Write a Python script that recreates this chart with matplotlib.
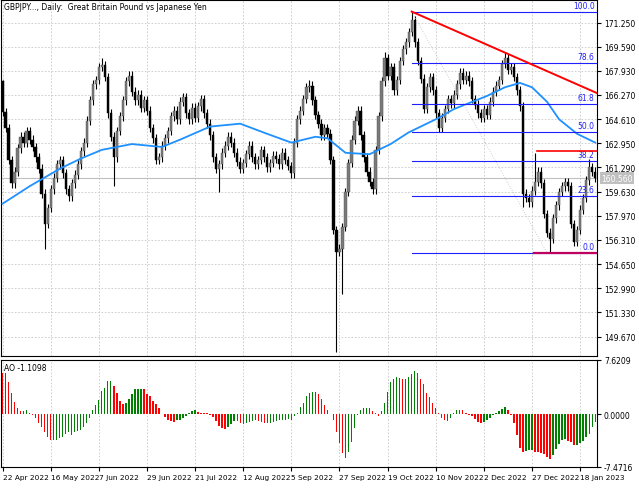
import matplotlib
matplotlib.use("Agg")
import matplotlib.pyplot as plt
import numpy as np

closes = [165.1, 164.0, 161.8, 160.2, 161.0, 162.6, 163.4, 163.0, 163.8, 163.2,
          162.7, 162.0, 161.2, 159.5, 157.4, 158.5, 159.8, 160.6, 161.5, 161.8,
          160.9, 159.8, 159.3, 160.2, 160.8, 161.5, 162.4, 163.0, 164.5, 165.9,
          167.0, 167.3, 168.2, 168.3, 167.5, 165.0, 163.4, 162.0, 163.8, 164.8,
          165.9, 167.2, 167.6, 166.5, 165.9, 166.3, 165.4, 165.9, 165.2, 164.0,
          163.3, 161.8, 162.0, 162.8, 163.3, 163.8, 164.8, 165.2, 164.6, 165.8,
          166.1, 165.0, 164.6, 165.4, 164.7, 165.5, 166.0, 165.0, 164.3, 163.5,
          162.0, 161.2, 161.5, 162.3, 162.8, 163.4, 163.0, 162.3, 161.7, 161.2,
          161.6, 162.2, 162.8, 162.0, 161.5, 161.8, 162.5, 162.0, 161.3, 161.6,
          162.1, 161.9, 161.5, 162.3, 161.8, 161.4, 160.9, 163.0, 164.6, 165.2,
          166.0, 166.8, 166.9, 165.9, 164.9, 164.3, 163.5, 164.0, 163.6, 161.8,
          157.0, 155.5, 155.7, 157.2, 159.6, 161.6, 163.2, 164.5, 165.2, 163.5,
          162.0, 161.0, 160.3, 159.8, 162.5, 164.8, 167.2, 168.8, 167.6, 168.2,
          166.6, 167.3, 168.6, 169.4, 169.9, 170.6, 171.4, 169.9, 168.6, 167.4,
          165.3, 166.8, 167.5, 166.6, 165.0, 164.0, 164.7, 165.3, 166.0, 165.7,
          166.3, 167.0, 167.8, 167.3, 167.6, 167.2, 166.0, 165.6, 165.0, 164.7,
          165.3, 164.9, 165.8, 166.5, 166.9, 167.3, 168.4, 168.8, 168.0, 168.2,
          167.5, 166.6, 165.5, 159.5, 159.2, 158.9, 159.7, 160.3, 161.0, 160.2,
          158.1, 156.8, 156.4, 157.8, 158.7, 159.6, 160.0, 160.3, 160.0, 157.4,
          156.2, 157.0, 158.4, 159.2, 160.4, 161.3, 161.0, 160.56]
first_open = 167.2
extreme_highs = {0: 167.3, 33: 168.8, 42: 167.9, 102: 167.3, 127: 169.2, 136: 172.0, 167: 169.2, 177: 162.3, 195: 161.9}
extreme_lows = {14: 155.7, 37: 160.0, 72: 159.6, 111: 148.6, 113: 152.6, 173: 158.6, 182: 155.4, 190: 155.9}

ma_idx = [0, 9, 19, 26, 33, 43, 53, 59, 69, 79, 88, 96, 104, 108, 114, 122, 129, 135, 145, 150, 161, 167, 172, 176, 181, 185, 191, 197]
ma_val = [158.8, 160.0, 161.2, 161.9, 162.5, 162.9, 162.7, 163.2, 164.1, 164.3, 163.6, 163.0, 163.4, 163.3, 162.3, 162.2, 162.9, 163.7, 164.7, 165.3, 166.2, 166.8, 167.1, 166.8, 165.8, 164.6, 163.6, 163.0]

ao = [5.8, 5.8, 4.5, 3.0, 1.7, 0.8, 0.4, 0.4, 0.6, 0.2, -0.2, -0.6, -1.2, -1.8, -2.6, -3.2, -3.7, -3.7, -3.7, -3.4,
      -3.2, -2.8, -2.6, -2.9, -2.6, -2.4, -2.2, -1.8, -1.3, -0.5, 0.6, 1.3, 2.0, 3.2, 3.7, 4.7, 4.7, 4.0, 3.0, 1.8,
      1.4, 1.6, 2.1, 2.8, 3.6, 3.6, 3.6, 3.5, 2.8, 2.5, 1.8, 1.4, 0.8, 0.0, -0.4, -0.8, -1.0, -1.1, -0.9, -0.8,
      -0.6, -0.3, 0.2, 0.4, 0.5, 0.3, 0.2, 0.15, 0.1, -0.1, -0.4, -1.0, -1.7, -2.0, -2.1, -1.9, -1.4, -1.0, -1.0, -1.2,
      -1.4, -1.2, -1.1, -1.0, -0.9, -1.0, -1.1, -1.2, -1.3, -1.2, -1.1, -1.0, -0.9, -0.9, -0.8, -0.7, -0.8, -0.3, 0.2, 1.0,
      1.5, 2.5, 3.0, 3.1, 3.1, 2.8, 2.1, 1.3, 0.6, 0.0, -0.9, -2.5, -4.1, -5.5, -6.2, -5.4, -3.9, -2.0, -0.1, 0.6,
      0.9, 0.9, 0.9, 0.4, 0.1, -0.3, 0.4, 1.5, 3.1, 4.5, 5.0, 5.2, 5.1, 4.9, 5.0, 5.2, 5.6, 6.1, 5.8, 5.0,
      4.3, 3.0, 2.4, 1.6, 0.8, 0.1, -0.5, -0.9, -1.0, -0.6, 0.2, 0.5, 0.6, 0.5, 0.2, -0.1, -0.3, -0.7, -1.1, -1.3,
      -1.1, -0.9, -0.6, -0.1, 0.1, 0.4, 0.7, 1.0, 0.5, -0.1, -1.3, -3.0, -4.8, -5.3, -5.2, -5.1, -5.1, -5.3, -5.4, -5.5,
      -5.6, -6.0, -6.3, -5.8, -5.0, -4.2, -3.7, -3.5, -3.8, -4.0, -4.3, -4.3, -4.1, -3.8, -3.2, -2.8, -1.9, -1.1098]

date_labels = ["22 Apr 2022", "16 May 2022", "7 Jun 2022", "29 Jun 2022", "21 Jul 2022", "12 Aug 2022",
               "5 Sep 2022", "27 Sep 2022", "19 Oct 2022", "10 Nov 2022", "2 Dec 2022", "27 Dec 2022", "18 Jan 2023"]
price_ticks = [171.25, 169.59, 167.93, 166.27, 164.61, 162.95, 161.29, 159.63, 157.97, 156.31, 154.65, 152.99, 151.33, 149.67]
fib_high, fib_low = 172.0, 155.43
fib_levels = [0.0, 23.6, 38.2, 50.0, 61.8, 78.6, 100.0]
current_price = 160.56

W, H = 639, 489
fig = plt.figure(figsize=(W/100, H/100), dpi=100)
fig.patch.set_facecolor("white")
def rect(l, t, r, b):
    return [l/W, 1-b/H, (r-l)/W, (b-t)/H]
ax = fig.add_axes(rect(0.5, 0.5, 597, 357))
ax2 = fig.add_axes(rect(0.5, 361, 597, 468))

n = len(closes)
x = np.arange(n)
opens = [first_open] + closes[:-1]
highs = [max(o, c) + 0.3 for o, c in zip(opens, closes)]
lows = [min(o, c) - 0.3 for o, c in zip(opens, closes)]
for k, v in extreme_highs.items(): highs[k] = v
for k, v in extreme_lows.items(): lows[k] = v

xmin, xmax = -0.67, 197.6
ax.set_xlim(xmin, xmax); ax2.set_xlim(xmin, xmax)
ax.set_ylim(148.34, 172.83)

grid_kw = dict(color="#c8c8c8", ls=(0, (2, 2)), lw=0.6)
tick_pos = list(range(0, 16*len(date_labels), 16))
for a in (ax, ax2):
    for t in tick_pos:
        a.axvline(t, zorder=0, **grid_kw)
for p in price_ticks:
    ax.axhline(p, zorder=0, **grid_kw)

ax.vlines(x, lows, highs, color="black", lw=0.8, zorder=2)
bull = [c >= o for o, c in zip(opens, closes)]
bottoms = [min(o, c) for o, c in zip(opens, closes)]
heights = [max(abs(c - o), 0.05) for o, c in zip(opens, closes)]
ax.bar(x, heights, bottom=bottoms, width=0.75,
       color=["#7a7a7a" if b else "black" for b in bull],
       edgecolor=["#505050" if b else "black" for b in bull], lw=0.3, zorder=3)

ax.plot(ma_idx, ma_val, color="#1e90ff", lw=1.3, zorder=4)
ax.axhline(current_price, color="#c0c0c0", lw=0.8, zorder=1)

# Fibonacci
fx0 = 136
for lv in fib_levels:
    p = fib_low + (fib_high - fib_low) * lv / 100
    ax.plot([fx0, xmax], [p, p], color="#2020ff", lw=0.8, zorder=5)
    ax.text(xmax - 0.8, p + 0.12, f"{lv:.1f}", color="#2020ff", fontsize=5.5, ha="right", va="bottom", zorder=6)
ax.plot([fx0, 181], [fib_high, fib_low], color="#c0c0c0", ls=(0, (1, 2)), lw=0.6, zorder=4)
# trend lines
ax.plot([136, xmax], [172.0, 166.4], color="red", lw=1.4, zorder=6)
ax.plot([177.5, xmax], [162.4, 162.4], color="red", lw=1.2, zorder=6)
ax.plot([176.5, xmax], [155.43, 155.43], color="#c00060", lw=1.6, zorder=6)

ax.yaxis.tick_right()
ax.set_yticks(price_ticks)
ax.set_yticklabels([f"{p:.3f}" for p in price_ticks])
ax.set_xticks([])
ax.tick_params(axis="y", labelsize=5.5, length=3, pad=2)
ax.annotate(f"{current_price:.3f}", xy=(1.0, current_price), xycoords=("axes fraction", "data"),
            xytext=(3, 0), textcoords="offset points", fontsize=5.5, color="white", va="center",
            bbox=dict(boxstyle="square,pad=0.15", fc="#c0c0c0", ec="none"), zorder=10, annotation_clip=False)
ax.text(0.006, 0.994, "GBPJPY..., Daily:  Great Britain Pound vs Japanese Yen", transform=ax.transAxes,
        fontsize=5.5, va="top", ha="left")

# AO
cols = ["red"] + ["#008000" if ao[i] >= ao[i-1] else "red" for i in range(1, len(ao))]
ax2.bar(np.arange(len(ao)), ao, width=0.45, color=cols, zorder=3)
ax2.set_ylim(-7.4716, 7.6209)
ax2.yaxis.tick_right()
ax2.set_yticks([7.6209, 0.0, -7.4716])
ax2.set_yticklabels(["7.6209", "0.0000", "-7.4716"])
ax2.tick_params(axis="y", labelsize=5.5, length=3, pad=2)
ax2.set_xticks(tick_pos)
ax2.set_xticklabels(date_labels, ha="left")
ax2.tick_params(axis="x", labelsize=5.3, length=3, pad=2)
ax2.text(0.006, 0.97, f"AO {ao[-1]:.4f}", transform=ax2.transAxes, fontsize=5.5, va="top", ha="left")

for a in (ax, ax2):
    for s in a.spines.values():
        s.set_linewidth(0.8)

fig.savefig("out.png", dpi=100)
